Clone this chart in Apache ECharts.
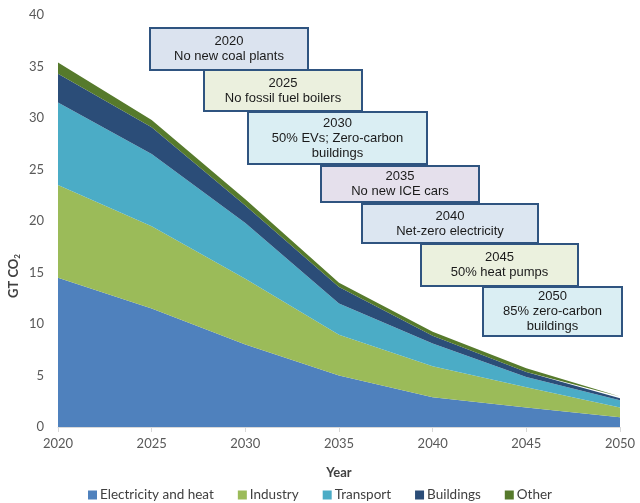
<!DOCTYPE html>
<html><head><meta charset="utf-8">
<script src="https://cdn.jsdelivr.net/npm/echarts@6/dist/echarts.min.js"></script>
<style>html,body{margin:0;padding:0;background:#fff}#c{width:640px;height:503px}</style>
</head><body><div id="c"></div>
<script>
var years = ['2020','2025','2030','2035','2040','2045','2050'];
var electricity = [14.5, 11.5, 8.0, 5.0, 2.9, 1.9, 0.95];
var industry = [9.0, 8.0, 6.4, 3.95, 3.0, 1.95, 0.95];
var transport = [8.0, 7.0, 5.4, 3.05, 2.2, 1.0, 0.7];
var buildings = [2.8, 2.6, 1.7, 1.6, 0.75, 0.5, 0.2];
var other = [1.1, 0.7, 0.6, 0.4, 0.4, 0.35, 0.15];
var yTicks = [0,5,10,15,20,25,30,35,40];
var notes = [
  {year:'2020', text:'No new coal plants'},
  {year:'2025', text:'No fossil fuel boilers'},
  {year:'2030', text:'50% EVs; Zero-carbon\nbuildings'},
  {year:'2035', text:'No new ICE cars'},
  {year:'2040', text:'Net-zero electricity'},
  {year:'2045', text:'50% heat pumps'},
  {year:'2050', text:'85% zero-carbon\nbuildings'}
];
var boxes = [
  {x:149,y:27,w:158,h:42,fill:'#dbe3ef'},
  {x:203,y:69,w:158,h:41,fill:'#ebf0de'},
  {x:247,y:111,w:179,h:52,fill:'#daeef3'},
  {x:320,y:165,w:158,h:36,fill:'#e5e0ec'},
  {x:361,y:203,w:176,h:39,fill:'#dce6f1'},
  {x:420,y:243,w:157,h:42,fill:'#ebf1de'},
  {x:482,y:286,w:139,h:49,fill:'#daeef3'}
];
var colors = ['#4f81bd','#9bbb59','#4bacc6','#2b4d78','#567a2c'];
var names = ['Electricity and heat','Industry','Transport','Buildings','Other'];
var sets = [electricity, industry, transport, buildings, other];

var chart = echarts.init(document.getElementById('c'));
var series = sets.map(function(d,i){
  return {name:names[i], type:'line', stack:'total', data:d, symbol:'none',
    lineStyle:{width:0}, areaStyle:{color:colors[i], opacity:1}, itemStyle:{color:colors[i]}};
});
var graphic = [];
boxes.forEach(function(b,i){
  graphic.push({type:'group', left:b.x, top:b.y, z:100, children:[
    {type:'rect', shape:{x:0,y:0,width:b.w,height:b.h}, style:{fill:b.fill, stroke:'#2f5480', lineWidth:2}},
    {type:'text', x:b.w/2, y:b.h/2, style:{text:notes[i].year+'\n'+notes[i].text, align:'center', verticalAlign:'middle',
      font:'13px "Liberation Sans", Arial, sans-serif', fill:'#1a1a1a', lineHeight:15}}
  ]});
});
graphic.push({type:'text', x:14, y:276, rotation:Math.PI/2, style:{
  text:'{a|GT CO}{s|2}', align:'center', verticalAlign:'middle',
  rich:{a:{font:'bold 13px Lato, sans-serif', fill:'#404040'}, s:{font:'bold 8px Lato, sans-serif', fill:'#404040', padding:[6,0,0,0]}}
}});
chart.setOption({
  animation:false,
  color:colors,
  grid:{left:58, right:20, top:15, bottom:76},
  legend:{top:483, left:'center', icon:'rect', itemWidth:9, itemHeight:9, itemGap:24,
    textStyle:{fontFamily:'Lato, sans-serif', fontSize:13.5, color:'#404040', padding:[0,0,0,-2]}, data:names},
  xAxis:{type:'category', data:years, boundaryGap:false,
    name:'Year', nameLocation:'middle', nameGap:39,
    nameTextStyle:{fontFamily:'Lato, sans-serif', fontWeight:'bold', fontSize:13, color:'#404040'},
    axisLine:{lineStyle:{color:'#d9d9d9'}}, axisTick:{show:true, lineStyle:{color:'#d9d9d9'}},
    axisLabel:{fontFamily:'Lato, sans-serif', fontSize:13, color:'#595959', margin:10}},
  yAxis:{type:'value', min:yTicks[0], max:yTicks[yTicks.length-1], interval:5,
    axisLine:{show:false}, axisTick:{show:false}, splitLine:{show:false},
    axisLabel:{fontFamily:'Lato, sans-serif', fontSize:13, color:'#595959', margin:14}},
  series:series,
  graphic:graphic
});
</script></body></html>
